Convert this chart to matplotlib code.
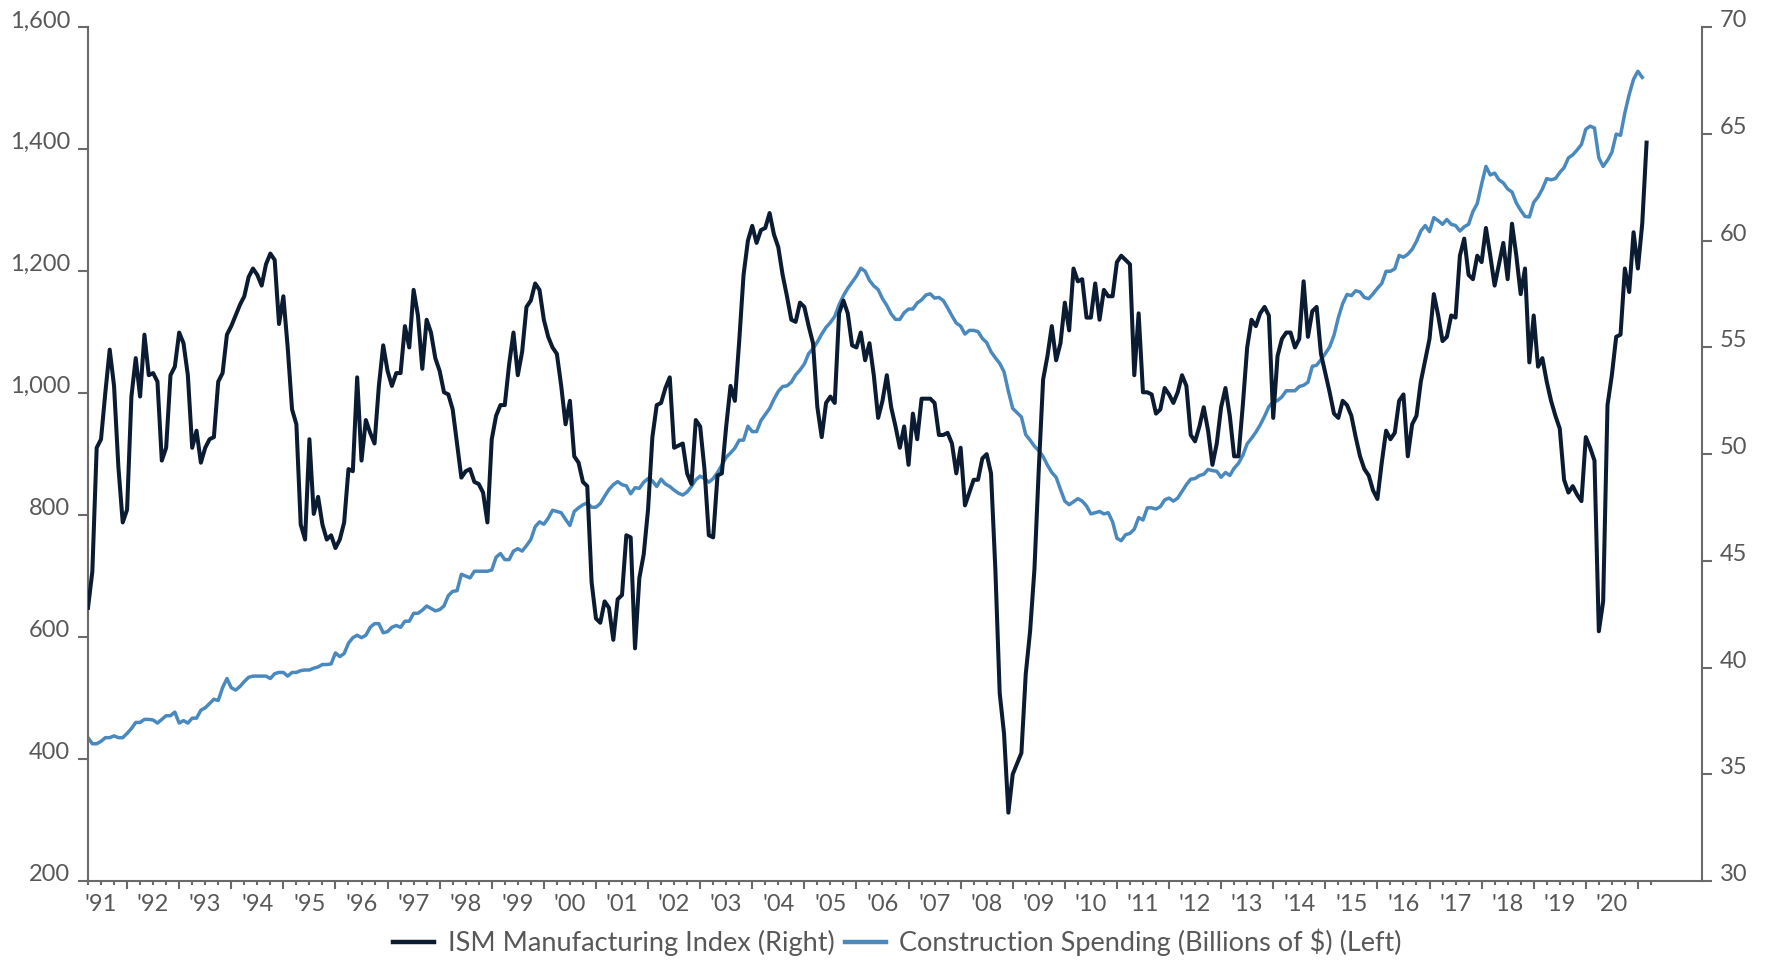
import numpy as np
import matplotlib.pyplot as plt
from matplotlib.lines import Line2D
from matplotlib.ticker import FixedLocator, FuncFormatter

plt.rcParams['font.family'] = ['Lato', 'DejaVu Sans']

# monthly series, first point = April 1991
start_year = 1991.25

# ISM Manufacturing Index (right axis)
ism = [
    42.8, 44.5, 50.3, 50.7, 52.9, 54.9, 53.2, 49.4, 46.8, 47.4,
    52.7, 54.5, 52.7, 55.6, 53.7, 53.8, 53.4, 49.7, 50.3, 53.7,
    54.1, 55.7, 55.2, 53.7, 50.3, 51.1, 49.6, 50.3, 50.7, 50.8,
    53.4, 53.8, 55.6, 56.0, 56.5, 57.0, 57.4, 58.3, 58.7, 58.4,
    57.9, 58.9, 59.4, 59.1, 56.1, 57.4, 55.0, 52.1, 51.4, 46.7,
    46.0, 50.7, 47.2, 48.0, 46.7, 46.0, 46.2, 45.6, 46.0, 46.8,
    49.3, 49.2, 53.6, 49.7, 51.6, 51.0, 50.5, 53.2, 55.1, 53.9,
    53.2, 53.8, 53.8, 56.0, 55.0, 57.7, 56.5, 54.0, 56.3, 55.7,
    54.5, 53.9, 52.9, 52.8, 52.1, 50.5, 48.9, 49.2, 49.3, 48.7,
    48.6, 48.2, 46.8, 50.7, 51.8, 52.3, 52.3, 54.2, 55.7, 53.7,
    54.8, 56.9, 57.2, 58.0, 57.7, 56.3, 55.5, 55.0, 54.7, 53.2,
    51.4, 52.5, 49.9, 49.6, 48.7, 48.5, 44.0, 42.3, 42.1, 43.1,
    42.8, 41.3, 43.2, 43.4, 46.2, 46.1, 40.9, 44.2, 45.3, 47.4,
    50.8, 52.3, 52.4, 53.1, 53.6, 50.3, 50.4, 50.5, 49.1, 48.6,
    51.6, 51.3, 49.3, 46.2, 46.1, 49.0, 49.1, 51.3, 53.2, 52.5,
    55.3, 58.4, 60.0, 60.7, 59.9, 60.5, 60.6, 61.3, 60.3, 59.7,
    58.4, 57.4, 56.3, 56.2, 57.1, 56.9, 56.0, 55.2, 52.2, 50.8,
    52.4, 52.7, 52.4, 56.6, 57.2, 56.6, 55.1, 55.0, 55.7, 54.4,
    55.2, 53.7, 51.7, 52.5, 53.7, 52.2, 51.3, 50.3, 51.3, 49.5,
    51.9, 50.7, 52.6, 52.6, 52.6, 52.4, 50.9, 50.9, 51.0, 50.5,
    49.1, 50.3, 47.6, 48.2, 48.8, 48.8, 49.8, 50.0, 49.1, 44.6,
    38.8, 36.9, 33.2, 35.0, 35.5, 36.0, 39.7, 41.7, 44.6, 49.3,
    53.5, 54.6, 56.0, 54.4, 55.2, 57.1, 55.8, 58.7, 58.1, 58.2,
    56.4, 56.4, 58.0, 56.3, 57.7, 57.4, 57.4, 59.0, 59.3, 59.1,
    58.9, 53.7, 56.6, 52.9, 52.9, 52.8, 51.9, 52.1, 53.1, 52.8,
    52.4, 52.9, 53.7, 53.2, 50.9, 50.6, 51.3, 52.2, 51.1, 49.5,
    50.5, 52.2, 53.1, 51.8, 49.9, 49.9, 52.3, 55.0, 56.3, 56.0,
    56.6, 56.9, 56.5, 51.7, 54.6, 55.4, 55.7, 55.7, 55.0, 55.4,
    58.1, 55.5, 56.7, 56.9, 54.7, 53.8, 52.9, 51.9, 51.7, 52.5,
    52.3, 51.8, 50.8, 49.9, 49.3, 49.0, 48.3, 47.9, 49.6, 51.1,
    50.7, 51.0, 52.5, 52.8, 49.9, 51.4, 51.8, 53.4, 54.4, 55.4,
    57.5, 56.5, 55.3, 55.5, 56.5, 56.4, 59.3, 60.1, 58.4, 58.2,
    59.3, 59.0, 60.6, 59.3, 57.9, 58.9, 59.9, 58.2, 60.8, 59.3,
    57.5, 58.7, 54.3, 56.5, 54.1, 54.5, 53.4, 52.5, 51.8, 51.2,
    48.8, 48.2, 48.5, 48.1, 47.8, 50.8, 50.3, 49.7, 41.7, 43.1,
    52.3, 53.7, 55.5, 55.6, 58.7, 57.6, 60.4, 58.7, 60.8, 64.6,
]

# Construction Spending, billions of $ (left axis)
construction = [
    435, 425, 425, 429, 435, 435, 438, 435, 435, 442,
    450, 460, 460, 465, 465, 464, 459, 465, 471, 471,
    477, 459, 463, 459, 467, 467, 480, 484, 491, 498,
    496, 517, 532, 517, 513, 519, 527, 534, 536, 536,
    536, 536, 532, 540, 542, 542, 536, 542, 542, 545,
    546, 546, 549, 551, 555, 555, 556, 574, 568, 573,
    590, 599, 603, 599, 603, 616, 622, 622, 607, 609,
    616, 619, 616, 626, 626, 639, 639, 644, 651, 647,
    643, 645, 651, 668, 675, 676, 703, 700, 697, 708,
    708, 708, 708, 710, 731, 737, 727, 727, 741, 745,
    741, 750, 760, 781, 789, 785, 795, 808, 806, 804,
    793, 783, 806, 812, 817, 820, 813, 813, 819, 831,
    842, 850, 855, 850, 848, 835, 845, 844, 854, 860,
    856, 847, 859, 851, 847, 841, 836, 833, 838, 847,
    858, 864, 860, 854, 860, 870, 882, 895, 902, 910,
    923, 923, 946, 937, 937, 955, 965, 975, 990, 1003,
    1011, 1012, 1018, 1030, 1038, 1048, 1065, 1073, 1084, 1097,
    1108, 1116, 1126, 1145, 1160, 1172, 1182, 1192, 1205, 1200,
    1185, 1176, 1170, 1155, 1144, 1130, 1121, 1121, 1132, 1138,
    1138, 1148, 1153, 1161, 1163, 1156, 1157, 1152, 1140, 1127,
    1115, 1110, 1097, 1103, 1103, 1101, 1090, 1083, 1068, 1058,
    1049, 1035, 1003, 975, 968, 961, 932, 923, 913, 906,
    896, 882, 870, 862, 842, 823, 817, 822, 827, 823,
    815, 802, 804, 806, 802, 804, 789, 762, 758, 768,
    770, 777, 796, 792, 812, 812, 810, 814, 825, 828,
    823, 828, 839, 850, 859, 860, 865, 867, 875, 873,
    872, 862, 870, 865, 877, 885, 898, 917, 926, 936,
    948, 962, 978, 986, 988, 994, 1004, 1004, 1004, 1011,
    1013, 1018, 1044, 1046, 1055, 1065, 1076, 1095, 1124, 1147,
    1162, 1160, 1168, 1166, 1157, 1155, 1163, 1172, 1180, 1200,
    1200, 1204, 1226, 1223, 1228, 1236, 1249, 1266, 1275, 1265,
    1288, 1283, 1277, 1285, 1277, 1275, 1266, 1273, 1277, 1298,
    1311, 1343, 1372, 1358, 1361, 1350, 1345, 1335, 1330, 1312,
    1300, 1290, 1289, 1313, 1322, 1335, 1352, 1350, 1352, 1362,
    1370, 1386, 1391, 1399, 1408, 1433, 1438, 1435, 1386, 1372,
    1382, 1395, 1425, 1423, 1460, 1490, 1515, 1528, 1518,
]

left_ticks = list(range(200, 1601, 200))
right_ticks = list(range(30, 71, 5))
years = list(range(1992, 2022))

ism_label = 'ISM Manufacturing Index (Right)'
con_label = 'Construction Spending (Billions of $) (Left)'

navy = '#0b1b31'
blue = '#4a89be'
grey_txt = '#585858'
grey_ax = '#6a6a6a'

x_ism = start_year + np.arange(len(ism)) / 12
x_con = start_year + np.arange(len(construction)) / 12

fig = plt.figure(figsize=(17.67, 9.61), dpi=100)
ax = fig.add_axes([0.0498, 0.0833, 0.9134, 0.8882])
ax2 = ax.twinx()

ax.plot(x_con, construction, color=blue, lw=2.5, solid_joinstyle='round')
ax2.plot(x_ism, ism, color=navy, lw=2.9, solid_joinstyle='round')

ax.set_xlim(1991.25, 2022.23)
ax.set_ylim(200, 1600)
ax2.set_ylim(30, 70)

for a in (ax, ax2):
    a.spines['top'].set_visible(False)
ax.spines['right'].set_visible(False)
ax2.spines['left'].set_visible(False)
ax2.spines['bottom'].set_visible(False)
for s in ('left', 'bottom'):
    ax.spines[s].set_color(grey_ax)
    ax.spines[s].set_linewidth(1.5)
ax2.spines['right'].set_color(grey_ax)
ax2.spines['right'].set_linewidth(1.5)

# y axes
ax.set_yticks(left_ticks)
ax.yaxis.set_major_formatter(FuncFormatter(lambda v, p: f'{v:,.0f}'))
ax.tick_params(axis='y', length=7, width=1.5, color=grey_ax, labelcolor=grey_txt,
               labelsize=17, pad=6)
ax2.set_yticks(right_ticks)
ax2.tick_params(axis='y', length=7, width=1.5, color=grey_ax, labelcolor=grey_txt,
                labelsize=17, pad=6)
for lab in ax.get_yticklabels() + ax2.get_yticklabels():
    lab.set_va('baseline')

# x axis: year ticks, quarter minor ticks, labels mid-year
quarters = [y + q / 4 for y in range(1991, 2022) for q in (1, 2, 3)
            if 1991.25 <= y + q / 4 <= 2021.25]
ax.xaxis.set_major_locator(FixedLocator(years))
ax.xaxis.set_minor_locator(FixedLocator(quarters))
ax.xaxis.set_major_formatter(FuncFormatter(lambda v, p: ''))
ax.xaxis.set_minor_formatter(FuncFormatter(
    lambda v, p: "'%02d" % (int(v) % 100) if abs(v % 1 - 0.5) < 1e-6 else ''))
ax.tick_params(axis='x', which='major', length=6, width=1.5, color=grey_ax)
ax.tick_params(axis='x', which='minor', length=3, width=1.5, color=grey_ax,
               labelcolor=grey_txt, labelsize=17, pad=6.5)

handles = [Line2D([], [], color=navy, lw=3.2), Line2D([], [], color=blue, lw=3.2)]
leg = fig.legend(handles, [ism_label, con_label], loc='center',
                 bbox_to_anchor=(0.508, 0.019), ncol=2, frameon=False,
                 fontsize=19.5, handlelength=1.5, handletextpad=0.5,
                 columnspacing=0.4)
for t in leg.get_texts():
    t.set_color(grey_txt)

fig.savefig('out.png', dpi=100)
